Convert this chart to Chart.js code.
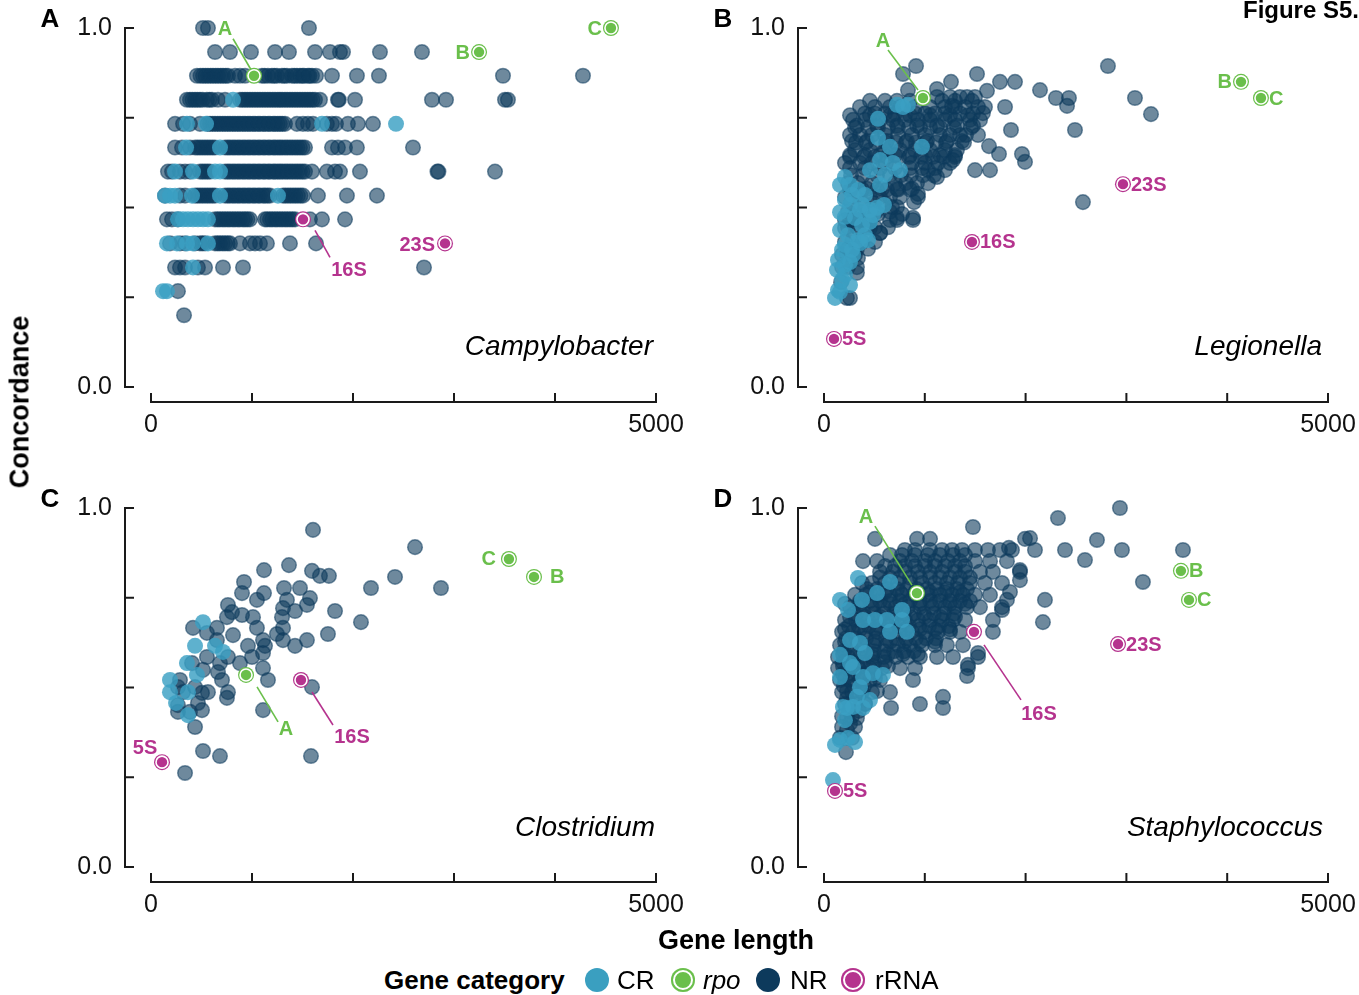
<!DOCTYPE html>
<html><head><meta charset="utf-8">
<script src="https://cdn.jsdelivr.net/npm/chart.js@4.4.1/dist/chart.umd.min.js"></script>
<style>
html,body{margin:0;padding:0;background:#fff;width:1359px;height:995px;overflow:hidden;font-family:"Liberation Sans",Arial,sans-serif;}
#root{position:relative;width:1359px;height:995px;}
canvas{position:absolute;}
.t{position:absolute;white-space:nowrap;color:#000;line-height:1;transform:translate(-50%,-50%);}
.l{position:absolute;white-space:nowrap;color:#000;line-height:1;transform:translateY(-50%);}
.r{position:absolute;white-space:nowrap;color:#000;line-height:1;transform:translate(-100%,-50%);}
.dot{position:absolute;width:24px;height:24px;border-radius:50%;top:968px;}
</style></head><body>
<div id="root">
<canvas id="cA" width="700" height="470" style="left:0;top:0"></canvas>
<canvas id="cB" width="700" height="470" style="left:680px;top:0"></canvas>
<canvas id="cC" width="700" height="470" style="left:0;top:470px"></canvas>
<canvas id="cD" width="700" height="470" style="left:680px;top:470px"></canvas>

<div class="t" style="left:50px;top:18px;font-weight:bold;font-size:26px">A</div>
<div class="t" style="left:723px;top:18px;font-weight:bold;font-size:26px">B</div>
<div class="t" style="left:50px;top:498px;font-weight:bold;font-size:26px">C</div>
<div class="t" style="left:723px;top:498px;font-weight:bold;font-size:26px">D</div>
<div class="r" style="left:1359px;top:10px;font-weight:bold;font-size:24px">Figure S5.</div>

<div class="r" style="left:653px;top:346px;font-style:italic;font-size:28px">Campylobacter</div>
<div class="r" style="left:1322px;top:346px;font-style:italic;font-size:28px">Legionella</div>
<div class="r" style="left:655px;top:827px;font-style:italic;font-size:28px">Clostridium</div>
<div class="r" style="left:1323px;top:827px;font-style:italic;font-size:28px">Staphylococcus</div>

<div class="t" style="left:20px;top:402px;font-weight:bold;font-size:27px;transform:translate(-50%,-50%) rotate(-90deg)">Concordance</div>
<div class="t" style="left:736px;top:940px;font-weight:bold;font-size:27px">Gene length</div>

<div class="l" style="left:384px;top:980px;font-weight:bold;font-size:26px">Gene category</div>
<div class="dot" style="left:585px;background:#3a9fc0"></div>
<div class="l" style="left:617px;top:980px;font-size:26px">CR</div>
<div class="dot" style="left:671px;background:#6abf4b;box-shadow:inset 0 0 0 2px #6abf4b, inset 0 0 0 4px #fff"></div>
<div class="l" style="left:703px;top:980px;font-size:26px;font-style:italic">rpo</div>
<div class="dot" style="left:756px;background:#0d3a5c"></div>
<div class="l" style="left:790px;top:980px;font-size:26px">NR</div>
<div class="dot" style="left:841px;background:#b5338e;box-shadow:inset 0 0 0 2px #b5338e, inset 0 0 0 4px #fff"></div>
<div class="l" style="left:875px;top:980px;font-size:26px">rRNA</div>
</div>

<script>
// ---------------- DATA (gene length, concordance) ----------------
const rpoNames = ['A','B','C'];

const campyNR = [
[515,1],[564,1],[1564,1],
[634,0.933],[782,0.933],[990,0.933],[1228,0.933],[1366,0.933],[1624,0.933],[1772,0.933],[1871,0.933],[1901,0.933],[2267,0.933],[2683,0.933],
[455,0.867],[515,0.867],[564,0.867],[614,0.867],[663,0.867],[713,0.867],[762,0.867],[832,0.867],[881,0.867],[931,0.867],[1099,0.867],[1158,0.867],[1198,0.867],[1247,0.867],[1297,0.867],[1346,0.867],[1396,0.867],[1445,0.867],[1475,0.867],[1515,0.867],[1554,0.867],[1594,0.867],[1634,0.867],[1792,0.867],[2039,0.867],[2257,0.867],[3485,0.867],[4277,0.867],
[490,0.867],[540,0.867],[590,0.867],[640,0.867],[690,0.867],[740,0.867],[1124,0.867],[1222,0.867],[1321,0.867],[1420,0.867],[1500,0.867],[1570,0.867],
[356,0.8],[386,0.8],[436,0.8],[485,0.8],[554,0.8],[604,0.8],[663,0.8],[733,0.8],[881,0.8],[931,0.8],[980,0.8],[1030,0.8],[1079,0.8],[1129,0.8],[1178,0.8],[1228,0.8],[1277,0.8],[1327,0.8],[1376,0.8],[1426,0.8],[1475,0.8],[1525,0.8],[1574,0.8],[1624,0.8],[1673,0.8],[1851,0.8],[1860,0.8],[2020,0.8],[2782,0.8],[2921,0.8],[3505,0.8],[3534,0.8],
[410,0.8],[460,0.8],[510,0.8],[580,0.8],[905,0.8],[955,0.8],[1005,0.8],[1055,0.8],[1105,0.8],[1155,0.8],[1205,0.8],[1255,0.8],[1300,0.8],[1350,0.8],[1400,0.8],[1450,0.8],[1500,0.8],[1550,0.8],[1600,0.8],
[238,0.733],[317,0.733],[386,0.733],[485,0.733],[584,0.733],[634,0.733],[683,0.733],[733,0.733],[782,0.733],[832,0.733],[881,0.733],[931,0.733],[980,0.733],[1030,0.733],[1079,0.733],[1129,0.733],[1178,0.733],[1228,0.733],[1277,0.733],[1327,0.733],[1445,0.733],[1505,0.733],[1554,0.733],[1604,0.733],[1742,0.733],[1792,0.733],[1832,0.733],[1950,0.733],[2049,0.733],[2198,0.733],
[560,0.733],[610,0.733],[660,0.733],[710,0.733],[760,0.733],[810,0.733],[860,0.733],[910,0.733],[960,0.733],[1010,0.733],[1060,0.733],[1110,0.733],[1160,0.733],[1210,0.733],[1255,0.733],[1300,0.733],
[238,0.667],[307,0.667],[386,0.667],[436,0.667],[485,0.667],[535,0.667],[584,0.667],[634,0.667],[733,0.667],[782,0.667],[832,0.667],[881,0.667],[931,0.667],[980,0.667],[1030,0.667],[1079,0.667],[1129,0.667],[1178,0.667],[1228,0.667],[1277,0.667],[1327,0.667],[1376,0.667],[1426,0.667],[1475,0.667],[1525,0.667],[1792,0.667],[1851,0.667],[1921,0.667],[2039,0.667],[2594,0.667],
[460,0.667],[510,0.667],[560,0.667],[610,0.667],[760,0.667],[810,0.667],[860,0.667],[910,0.667],[960,0.667],[1010,0.667],[1060,0.667],[1110,0.667],[1160,0.667],[1210,0.667],[1255,0.667],[1300,0.667],[1350,0.667],[1400,0.667],[1450,0.667],[1500,0.667],
[168,0.6],[208,0.6],[287,0.6],[337,0.6],[386,0.6],[485,0.6],[535,0.6],[584,0.6],[733,0.6],[782,0.6],[832,0.6],[881,0.6],[931,0.6],[980,0.6],[1030,0.6],[1079,0.6],[1129,0.6],[1178,0.6],[1228,0.6],[1277,0.6],[1327,0.6],[1376,0.6],[1426,0.6],[1475,0.6],[1525,0.6],[1594,0.6],[1742,0.6],[1822,0.6],[1871,0.6],[2069,0.6],[2836,0.6],[2846,0.6],[3406,0.6],
[510,0.6],[560,0.6],[760,0.6],[810,0.6],[860,0.6],[910,0.6],[960,0.6],[1010,0.6],[1060,0.6],[1110,0.6],[1160,0.6],[1210,0.6],[1255,0.6],[1300,0.6],[1350,0.6],[1400,0.6],[1450,0.6],[1500,0.6],
[139,0.533],[287,0.533],[337,0.533],[436,0.533],[485,0.533],[535,0.533],[584,0.533],[634,0.533],[733,0.533],[782,0.533],[832,0.533],[881,0.533],[931,0.533],[980,0.533],[1030,0.533],[1079,0.533],[1129,0.533],[1178,0.533],[1307,0.533],[1356,0.533],[1406,0.533],[1455,0.533],[1505,0.533],[1653,0.533],[1940,0.533],[2237,0.533],
[460,0.533],[510,0.533],[560,0.533],[610,0.533],[760,0.533],[810,0.533],[860,0.533],[910,0.533],[960,0.533],[1010,0.533],[1060,0.533],[1110,0.533],[1155,0.533],[1330,0.533],[1380,0.533],[1430,0.533],[1480,0.533],
[158,0.467],[208,0.467],[267,0.467],[634,0.467],[683,0.467],[733,0.467],[782,0.467],[832,0.467],[881,0.467],[931,0.467],[980,0.467],[1129,0.467],[1178,0.467],[1228,0.467],[1277,0.467],[1327,0.467],[1376,0.467],[1426,0.467],[1574,0.467],[1693,0.467],[1921,0.467],
[660,0.467],[710,0.467],[760,0.467],[810,0.467],[860,0.467],[910,0.467],[955,0.467],[1150,0.467],[1200,0.467],[1250,0.467],[1300,0.467],[1350,0.467],[1400,0.467],
[188,0.4],[287,0.4],[337,0.4],[436,0.4],[485,0.4],[535,0.4],[634,0.4],[683,0.4],[733,0.4],[782,0.4],[881,0.4],[980,0.4],[1030,0.4],[1079,0.4],[1148,0.4],[1376,0.4],[1634,0.4],
[510,0.4],[660,0.4],[710,0.4],[760,0.4],
[238,0.333],[287,0.333],[337,0.333],[465,0.333],[535,0.333],[713,0.333],[911,0.333],[2703,0.333],
[267,0.267],[327,0.2]
];
const campyCR = [
[812,0.8],
[356,0.733],[545,0.733],[1693,0.733],[2426,0.733],
[347,0.667],[683,0.667],
[238,0.6],[416,0.6],[634,0.6],[683,0.6],
[139,0.533],[188,0.533],[238,0.533],[406,0.533],[683,0.533],[1257,0.533],
[267,0.467],[317,0.467],[366,0.467],[416,0.467],[465,0.467],[515,0.467],[564,0.467],
[158,0.4],[257,0.4],[356,0.4],[416,0.4],[564,0.4],
[416,0.333],[119,0.267],[158,0.267]
];
const campyRpo = [[1020,0.867],[3248,0.933],[4554,1]];
const campyRRNA = [[1505,0.467],[2911,0.4]];
const campyRRNANames = ['16S','23S'];

const legioNR = [
[1121,0.808],[1250,0.808],[1349,0.808],[1419,0.808],[1498,0.808],
[456,0.797],[605,0.797],[724,0.797],[853,0.797],[1171,0.797],[1300,0.797],[1468,0.797],
[357,0.78],[506,0.78],[655,0.78],[754,0.78],[903,0.78],[1052,0.78],[1200,0.78],[1300,0.78],[1399,0.78],[1528,0.78],[1597,0.78],
[407,0.762],[506,0.762],[605,0.762],[704,0.762],[803,0.762],[903,0.762],[1002,0.762],[1101,0.762],[1200,0.762],[1349,0.762],[1478,0.762],
[258,0.757],[456,0.757],[655,0.757],[853,0.757],[1052,0.757],[1250,0.757],[1428,0.757],
[288,0.744],[407,0.744],[556,0.744],[684,0.744],[803,0.744],[932,0.744],[1052,0.744],[1200,0.744],[1300,0.744],[1448,0.744],[1548,0.744],
[327,0.728],[526,0.728],[724,0.728],[923,0.728],[1121,0.728],[1319,0.728],[1478,0.728],
[308,0.723],[437,0.723],[536,0.723],[635,0.723],[734,0.723],[843,0.723],[953,0.723],[1052,0.723],[1151,0.723],[1290,0.723],[1458,0.723],
[258,0.702],[357,0.702],[476,0.702],[605,0.702],[734,0.702],[873,0.702],[1002,0.702],[1151,0.702],[1250,0.702],[1349,0.702],[1409,0.702],[1528,0.702],
[278,0.685],[427,0.685],[625,0.685],[823,0.685],[1022,0.685],[1220,0.685],[1369,0.685],
[317,0.681],[417,0.681],[516,0.681],[615,0.681],[714,0.681],[813,0.681],[912,0.681],[1012,0.681],[1111,0.681],[1210,0.681],[1389,0.681],
[308,0.66],[456,0.66],[605,0.66],[754,0.66],[903,0.66],[1052,0.66],[1200,0.66],[1319,0.66],
[258,0.646],[407,0.646],[556,0.646],[704,0.646],[853,0.646],[1002,0.646],[1151,0.646],[1300,0.646],
[258,0.641],[397,0.641],[506,0.641],[625,0.641],[744,0.641],[843,0.641],[962,0.641],[1081,0.641],[1190,0.641],[1299,0.641],
[208,0.624],[357,0.624],[476,0.624],[615,0.624],[873,0.624],[1002,0.624],[1131,0.624],[1250,0.624],
[258,0.61],[407,0.61],[556,0.61],[704,0.61],[853,0.61],[972,0.61],[1101,0.61],
[1032,0.604],[1200,0.604],
[268,0.59],[387,0.59],[526,0.59],[655,0.59],[764,0.59],[863,0.59],[982,0.59],[1091,0.59],
[238,0.568],[337,0.568],[476,0.568],[704,0.568],[813,0.568],[923,0.568],[1032,0.568],
[278,0.552],[427,0.552],[575,0.552],[724,0.552],[873,0.552],
[258,0.55],[377,0.55],[526,0.55],[625,0.55],[734,0.55],[853,0.55],
[208,0.529],[308,0.529],[456,0.529],[556,0.529],[655,0.529],[754,0.529],[932,0.529],
[268,0.512],[387,0.512],[496,0.512],[605,0.512],
[724,0.501],[675,0.501],
[238,0.488],[377,0.488],[516,0.488],[655,0.488],
[318,0.482],[427,0.482],[536,0.482],[774,0.482],
[208,0.465],[258,0.465],[357,0.465],[456,0.465],[655,0.465],[724,0.465],[883,0.465],
[238,0.445],[327,0.445],[417,0.445],[506,0.445],[635,0.445],
[208,0.443],[337,0.443],[456,0.443],
[556,0.429],
[208,0.404],[278,0.404],[377,0.404],[506,0.404],
[238,0.385],[327,0.385],[437,0.385],[228,0.37],[288,0.37],[179,0.368],[308,0.368],
[337,0.359],[179,0.334],[238,0.334],[327,0.334],[169,0.292],[228,0.248],[258,0.248],
[913,0.894],[784,0.872],[833,0.827],[1121,0.83],[1518,0.872],[1746,0.85],[1617,0.825],[1796,0.78],[1577,0.763],[1736,0.649],[1647,0.604],[932,0.538],[883,0.471],[724,0.471],[556,0.429],[327,0.318],
[1260,0.85],[1895,0.85],[2143,0.827],[2301,0.805],[2430,0.805],[2411,0.783],[2490,0.716],[2817,0.894],[3085,0.805],[3244,0.76],[1855,0.716],[1637,0.671],[1964,0.649],[1994,0.627],[1498,0.604],[1280,0.632],[1121,0.585],[893,0.515],[2569,0.515],[1270,0.783]
];
const legioCR = [
[724,0.786],[784,0.78],[833,0.786],[536,0.747],[536,0.694],[655,0.669],[972,0.669],[556,0.632],[684,0.624],[754,0.604],[605,0.591],
[208,0.585],[258,0.563],[337,0.549],[407,0.535],[208,0.521],[258,0.507],[357,0.493],[456,0.493],[526,0.499],[208,0.474],[308,0.471],
[377,0.451],[456,0.46],[159,0.437],[238,0.423],[337,0.409],[407,0.423],[208,0.396],[278,0.382],[357,0.401],[139,0.354],[208,0.34],
[288,0.368],[129,0.326],[208,0.312],[139,0.27],[109,0.248],[159,0.265],
[159,0.563],[278,0.535],[377,0.507],[159,0.487],[437,0.409],[179,0.382],[258,0.348],[179,0.298],[258,0.284],[486,0.479],[595,0.507],[556,0.563],[456,0.604]
];
const legioRpo = [[982,0.805],[4137,0.85],[4335,0.805]];
const legioRRNA = [[99,0.134],[1468,0.404],[2966,0.565]];
const legioRRNANames = ['5S','16S','23S'];

const clostNR = [
[1119,0.827],[1366,0.841],[1594,0.825],[1673,0.811],[1762,0.811],[921,0.794],[1317,0.777],[1475,0.777],[901,0.763],[1049,0.744],
[1119,0.763],[1346,0.744],[1574,0.749],[1822,0.713],[762,0.73],[1544,0.73],[802,0.71],[901,0.702],[1010,0.696],[1307,0.721],
[1426,0.713],[1297,0.696],[752,0.696],[1752,0.649],[1049,0.666],[1307,0.666],[1247,0.649],[1109,0.632],[1544,0.632],[1426,0.616],
[1307,0.632],[960,0.616],[1129,0.616],[416,0.666],[653,0.666],[554,0.652],[812,0.646],[653,0.632],[762,0.585],[554,0.585],
[1000,0.585],[1109,0.596],[1109,0.554],[881,0.568],[683,0.568],[406,0.568],[515,0.549],[663,0.543],[703,0.521],[564,0.487],
[762,0.487],[752,0.471],[287,0.521],[267,0.501],[317,0.487],[436,0.501],[505,0.485],[465,0.457],[267,0.451],[267,0.432],
[386,0.432],[505,0.437],[436,0.39],[515,0.323],[683,0.309],[337,0.262],[1109,0.437],[1158,0.521],[1594,0.501],[1584,0.309],
[1604,0.939],[2614,0.891],[2416,0.808],[2178,0.777],[2871,0.777],[2079,0.682]
];
const clostCR = [
[515,0.682],[436,0.616],[634,0.616],[713,0.599],[356,0.568],[455,0.535],[188,0.521],[188,0.487],[366,0.487],[248,0.457],[366,0.423]
];
const clostRpo = [[941,0.535],[3792,0.808],[3544,0.858]];
const clostRRNA = [[109,0.292],[1485,0.521]];
const clostRRNANames = ['5S','16S'];

const staphNR = [
[506,0.914],[923,0.914],[1052,0.914],[1994,0.914],
[803,0.883],[903,0.883],[1052,0.883],[1171,0.883],[1270,0.883],[1369,0.883],[1498,0.883],[1627,0.883],[1746,0.883],[1865,0.883],[2093,0.883],
[655,0.869],[774,0.869],[903,0.869],[1032,0.869],[1151,0.869],[1280,0.869],[1399,0.869],
[387,0.852],[526,0.852],[754,0.852],[873,0.852],[1002,0.852],[1101,0.852],[1230,0.852],[1349,0.852],[1498,0.852],[1647,0.852],[1815,0.852],
[606,0.838],[705,0.838],[804,0.838],[903,0.838],[1002,0.838],[1101,0.838],[1200,0.838],[1300,0.838],[1399,0.838],
[556,0.822],[684,0.822],[803,0.822],[932,0.822],[1052,0.822],[1171,0.822],[1300,0.822],[1399,0.822],[1548,0.822],[1676,0.822],[1944,0.822],
[556,0.806],[655,0.806],[754,0.806],[853,0.806],[952,0.806],[1052,0.806],[1151,0.806],[1250,0.806],[1349,0.806],[1448,0.806],
[377,0.791],[476,0.791],[605,0.791],[734,0.791],[853,0.791],[972,0.791],[1101,0.791],[1220,0.791],[1329,0.791],[1448,0.791],[1597,0.791],[1766,0.791],
[426,0.774],[526,0.774],[625,0.774],[724,0.774],[823,0.774],[923,0.774],[1022,0.774],[1121,0.774],[1220,0.774],[1319,0.774],[1418,0.774],
[456,0.765],[605,0.765],[754,0.765],[903,0.765],[1052,0.765],[1200,0.765],[1349,0.765],
[308,0.758],[417,0.758],[536,0.758],[655,0.758],[774,0.758],[903,0.758],[1032,0.758],[1151,0.758],[1270,0.758],[1379,0.758],[1498,0.758],[1647,0.758],
[357,0.741],[456,0.741],[556,0.741],[655,0.741],[754,0.741],[853,0.741],[952,0.741],[1052,0.741],[1151,0.741],[1250,0.741],[1349,0.741],[1448,0.741],
[208,0.733],[357,0.733],[506,0.733],[655,0.733],[803,0.733],[952,0.733],[1101,0.733],[1250,0.733],[1399,0.733],
[258,0.724],[357,0.724],[476,0.724],[595,0.724],[714,0.724],[833,0.724],[952,0.724],[1071,0.724],[1200,0.724],[1300,0.724],[1419,0.724],[1548,0.724],[1766,0.724],
[298,0.706],[397,0.706],[496,0.706],[595,0.706],[694,0.706],[794,0.706],[893,0.706],[992,0.706],[1091,0.706],[1190,0.706],[1290,0.706],
[258,0.697],[407,0.697],[556,0.697],[704,0.697],[853,0.697],[1002,0.697],[1151,0.697],[1300,0.697],
[208,0.688],[317,0.688],[436,0.688],[556,0.688],[675,0.688],[803,0.688],[932,0.688],[1052,0.688],[1171,0.688],[1280,0.688],[1399,0.688],[1676,0.688],
[248,0.671],[347,0.671],[446,0.671],[546,0.671],[645,0.671],[744,0.671],[843,0.671],[942,0.671],[1042,0.671],[1141,0.671],[1240,0.671],
[208,0.662],[357,0.662],[506,0.662],[655,0.662],[803,0.662],[952,0.662],[1101,0.662],[1250,0.662],
[179,0.655],[288,0.655],[407,0.655],[526,0.655],[645,0.655],[754,0.655],[873,0.655],[1002,0.655],[1131,0.655],[1250,0.655],[1349,0.655],[1676,0.655],
[218,0.637],[317,0.637],[417,0.637],[516,0.637],[615,0.637],[714,0.637],[813,0.637],[912,0.637],[1012,0.637],[1111,0.637],
[208,0.628],[357,0.628],[506,0.628],[655,0.628],[803,0.628],[952,0.628],[1101,0.628],
[159,0.618],[258,0.618],[377,0.618],[496,0.618],[615,0.618],[734,0.618],[853,0.618],[972,0.618],[1101,0.618],[1220,0.618],[1379,0.618],
[198,0.601],[298,0.601],[397,0.601],[496,0.601],[595,0.601],[694,0.601],[794,0.601],[893,0.601],
[188,0.593],[337,0.593],[486,0.593],[635,0.593],[784,0.593],[932,0.593],
[139,0.585],[238,0.585],[357,0.585],[476,0.585],[595,0.585],[714,0.585],[833,0.585],[952,0.585],[1121,0.585],[1280,0.585],[1528,0.585],
[188,0.57],[288,0.57],[387,0.57],[496,0.57],[605,0.57],
[188,0.56],[337,0.56],[486,0.56],[635,0.56],
[139,0.554],[238,0.554],[337,0.554],[456,0.554],[575,0.554],[754,0.554],[903,0.554],[1428,0.554],
[188,0.538],[288,0.538],[397,0.538],[506,0.538],
[208,0.525],[357,0.525],[506,0.525],
[159,0.521],[258,0.521],[357,0.521],[456,0.521],[556,0.521],[883,0.521],
[198,0.504],[298,0.504],[397,0.504],
[228,0.49],[377,0.49],[526,0.49],
[179,0.487],[278,0.487],[377,0.487],[476,0.487],[655,0.487],
[228,0.47],[328,0.47],
[258,0.455],[407,0.455],
[208,0.454],[308,0.454],[407,0.454],[952,0.454],
[248,0.435],[347,0.435],[179,0.42],[278,0.42],[228,0.415],[327,0.415],[258,0.4],[179,0.39],[308,0.39],[228,0.382],[159,0.36],[278,0.36],[218,0.32],
[1181,0.474],[1181,0.443],[665,0.443],[1419,0.532],[1428,0.563],[1528,0.596],[1766,0.716],[1845,0.766],[1815,0.744],[2172,0.682],
[2192,0.744],[1944,0.799],[2708,0.911],[2321,0.972],[2936,1.0],[2391,0.883],[2589,0.855],[2956,0.883],[3561,0.883],[3164,0.794],
[1944,0.827],[1835,0.889],[1478,0.947],[2044,0.916]
];
const staphCR = [
[655,0.794],[526,0.763],[377,0.744],[238,0.716],[387,0.688],[506,0.688],[625,0.688],[774,0.716],[774,0.688],[823,0.655],
[655,0.655],[357,0.624],[407,0.596],[258,0.568],[288,0.557],[486,0.54],[387,0.529],[159,0.529],[585,0.535],[357,0.501],
[327,0.474],[228,0.443],[387,0.443],[337,0.805],[159,0.354],[238,0.359],[308,0.348],[89,0.242],[188,0.446],[288,0.446],
[159,0.744],[258,0.632],[159,0.591],[456,0.465],[208,0.409],[109,0.34]
];
const staphRpo = [[922,0.763],[3541,0.825],[3621,0.744]];
const staphRRNA = [[109,0.212],[1488,0.655],[2917,0.621]];
const staphRRNANames = ['5S','16S','23S'];

// ---------------- STYLE ----------------
const GREEN = '#6abf4b', MAGENTA = '#b5338e';
const NR_FILL = 'rgba(13,58,92,0.6)', NR_EDGE = 'rgba(13,58,92,0.55)';
const CR_FILL = 'rgba(58,160,195,0.82)';
const FONT = '"Liberation Sans", Arial, sans-serif';
Chart.defaults.font.family = FONT;

const noteStyles = {
  A: { A:{dx:-29,dy:-47,align:'center',line:[-21,-37,-3,-6]}, B:{dx:-9,dy:0,align:'right'}, C:{dx:-9,dy:0,align:'right'},
       '16S':{dx:46,dy:50,align:'center',line:[12,11,27,38]}, '23S':{dx:-10,dy:1,align:'right'} },
  B: { A:{dx:-40,dy:-58,align:'center',line:[-35,-48,-5,-8]}, B:{dx:-9,dy:0,align:'right'}, C:{dx:8,dy:0,align:'left'},
       '5S':{dx:8,dy:0,align:'left'}, '16S':{dx:8,dy:0,align:'left'}, '23S':{dx:8,dy:0,align:'left'} },
  C: { A:{dx:40,dy:54,align:'center',line:[11,12,32,47]}, B:{dx:16,dy:0,align:'left'}, C:{dx:-13,dy:0,align:'right'},
       '5S':{dx:-17,dy:-15,align:'center'}, '16S':{dx:51,dy:57,align:'center',line:[11,12,32,45]} },
  D: { A:{dx:-51,dy:-77,align:'center',line:[-42,-67,-5,-8]}, B:{dx:8,dy:0,align:'left'}, C:{dx:8,dy:0,align:'left'},
       '5S':{dx:8,dy:0,align:'left'}, '16S':{dx:65,dy:82,align:'center',line:[10,13,47,68]}, '23S':{dx:8,dy:0,align:'left'} }
};

const deco = {
  id: 'deco',
  afterDatasetsDraw(chart, args, o) {
    const {ctx, chartArea: ca, scales: {x, y}} = chart;
    ctx.save();
    ctx.strokeStyle = '#1a1a1a'; ctx.lineWidth = 2;
    const ax = ca.left - 26, ay = ca.bottom + 15;
    ctx.beginPath();
    ctx.moveTo(ax, y.getPixelForValue(y.min) + 1); ctx.lineTo(ax, y.getPixelForValue(y.max) - 1);
    y.ticks.forEach(t => { const p = y.getPixelForValue(t.value); ctx.moveTo(ax, p); ctx.lineTo(ax + 9, p); });
    ctx.moveTo(x.getPixelForValue(x.min) - 1, ay); ctx.lineTo(x.getPixelForValue(x.max) + 1, ay);
    x.ticks.forEach(t => { const p = x.getPixelForValue(t.value); ctx.moveTo(p, ay); ctx.lineTo(p, ay - 9); });
    ctx.stroke();
    ctx.font = 'bold 20px ' + FONT;
    ctx.textBaseline = 'middle';
    o.notes.forEach(n => {
      const px = x.getPixelForValue(n.pt[0]), py = y.getPixelForValue(n.pt[1]);
      ctx.fillStyle = n.color; ctx.textAlign = n.align;
      ctx.fillText(n.text, px + n.dx, py + n.dy + 1);
      if (n.line) {
        ctx.strokeStyle = n.color; ctx.lineWidth = 1.6;
        ctx.beginPath(); ctx.moveTo(px + n.line[0], py + n.line[1]); ctx.lineTo(px + n.line[2], py + n.line[3]); ctx.stroke();
      }
    });
    ctx.restore();
  }
};

const pts = a => a.map(p => ({x: p[0], y: p[1]}));

function buildNotes(panel, rpo, rrna, rrnaNames) {
  const st = noteStyles[panel], out = [];
  rpo.forEach((p, i) => out.push(Object.assign({pt: p, text: rpoNames[i], color: GREEN}, st[rpoNames[i]])));
  rrna.forEach((p, i) => out.push(Object.assign({pt: p, text: rrnaNames[i], color: MAGENTA}, st[rrnaNames[i]])));
  return out;
}

function makePanel(id, panel, nr, cr, rpo, rrna, rrnaNames, g) {
  new Chart(document.getElementById(id), {
    type: 'scatter',
    data: { datasets: [
      {label: 'rRNA', data: pts(rrna), pointRadius: 6, backgroundColor: MAGENTA, borderColor: '#fff', borderWidth: 1.6, order: 1, clip: false},
      {label: 'rRNA ring', data: pts(rrna), pointRadius: 8, backgroundColor: MAGENTA, borderWidth: 0, order: 2, clip: false},
      {label: 'rpo', data: pts(rpo), pointRadius: 6, backgroundColor: GREEN, borderColor: '#fff', borderWidth: 1.6, order: 3, clip: false},
      {label: 'rpo ring', data: pts(rpo), pointRadius: 8, backgroundColor: GREEN, borderWidth: 0, order: 4, clip: false},
      {label: 'CR', data: pts(cr), pointRadius: 8, backgroundColor: CR_FILL, borderWidth: 0, order: 5, clip: false},
      {label: 'NR', data: pts(nr), pointRadius: 7.3, backgroundColor: NR_FILL, borderColor: NR_EDGE, borderWidth: 1.5, order: 6, clip: false}
    ]},
    options: {
      responsive: false, animation: false, events: [],
      layout: { padding: {left: 0, top: g.top, right: g.right, bottom: 0} },
      plugins: { legend: {display: false}, tooltip: {enabled: false},
                 deco: { notes: buildNotes(panel, rpo, rrna, rrnaNames) } },
      scales: {
        x: { type: 'linear', min: 0, max: 5000,
             ticks: { stepSize: 1000, autoSkip: false, maxRotation: 0, padding: 23, color: '#111', font: {size: 25},
                      callback: v => (v === 0 || v === 5000) ? String(v) : '' },
             grid: { display: false, drawTicks: false, tickLength: 0 }, border: { display: false },
             afterFit: s => { s.height = g.xH; s.paddingLeft = 0; s.paddingRight = 0; } },
        y: { type: 'linear', min: 0, max: 1,
             ticks: { stepSize: 0.25, autoSkip: false, padding: 39, color: '#111', font: {size: 25},
                      callback: v => v === 0 ? '0.0' : (v === 1 ? '1.0' : '') },
             grid: { display: false, drawTicks: false, tickLength: 0 }, border: { display: false },
             afterFit: s => { s.width = g.yW; s.paddingTop = 0; s.paddingBottom = 0; } }
      }
    },
    plugins: [deco]
  });
}

makePanel('cA', 'A', campyNR, campyCR, campyRpo, campyRRNA, campyRRNANames, {yW: 151, top: 28, right: 44, xH: 83});
makePanel('cB', 'B', legioNR, legioCR, legioRpo, legioRRNA, legioRRNANames, {yW: 144, top: 28, right: 52, xH: 83});
makePanel('cC', 'C', clostNR, clostCR, clostRpo, clostRRNA, clostRRNANames, {yW: 151, top: 38, right: 44, xH: 73});
makePanel('cD', 'D', staphNR, staphCR, staphRpo, staphRRNA, staphRRNANames, {yW: 144, top: 38, right: 52, xH: 73});
</script>
</body></html>
